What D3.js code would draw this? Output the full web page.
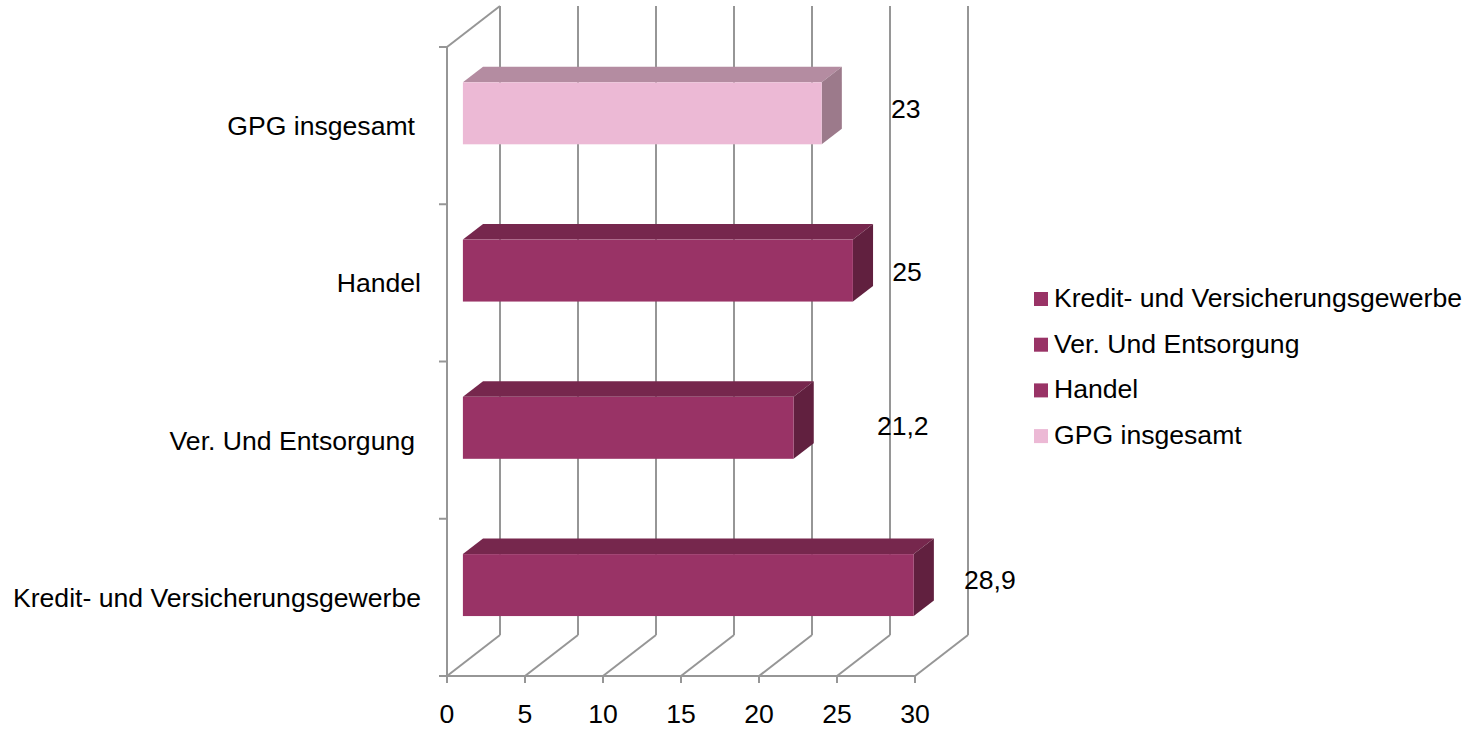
<!DOCTYPE html>
<html>
<head>
<meta charset="utf-8">
<script src="https://cdn.jsdelivr.net/npm/d3@7"></script>
<style>
  html, body { margin: 0; padding: 0; background: #fff; }
  svg { display: block; font-family: "Liberation Sans", Arial, sans-serif; }
</style>
</head>
<body>
<svg id="chart" width="1472" height="730"></svg>
<script>
// Series, in spreadsheet order (first row is drawn at the bottom)
const categories = ["Kredit- und Versicherungsgewerbe", "Ver. Und Entsorgung", "Handel", "GPG insgesamt"];
const values = [28.9, 21.2, 25, 23];
const valueLabels = ["28,9", "21,2", "25", "23"];
const xTicks = [0, 5, 10, 15, 20, 25, 30];

// Where each value label sits, relative to the far end of its bar (px)
const labelOffsets = [[56, 4], [89, 7], [34, 10], [64, 5]];

// Colour sets: [front, top, side]
const darkFaces = ["#993366", "#76274d", "#61203f"];
const pinkFaces = ["#ecb9d5", "#b48ca1", "#9c7a8b"];
const faceSet = i => (categories[i] === "GPG insgesamt" ? pinkFaces : darkFaces);

const svg = d3.select("#chart");
const FONT = 26.6;
const grid = "#969696";

// Front plane of the plot box and the depth vector to the back wall
const x = d3.scaleLinear().domain([0, 30]).range([447, 915]);
const y = d3.scaleBand().domain(categories.slice().reverse()).range([47, 676]).padding(0);
const DX = 53, DY = -41;
const floorY = 676, topY = 47;

// Bars occupy a slab inside the depth
const f0 = 0.30, f1 = 0.68;
const barFrac = 0.394;

const g = svg.append("g");

// Back wall gridlines
g.selectAll("line.back").data(xTicks).join("line")
  .attr("x1", d => x(d) + DX).attr("x2", d => x(d) + DX)
  .attr("y1", topY + DY).attr("y2", floorY + DY)
  .attr("stroke", grid).attr("stroke-width", 2);

// Floor lines running from the front axis to the back wall
g.selectAll("line.floor").data(xTicks).join("line")
  .attr("x1", d => x(d)).attr("y1", floorY)
  .attr("x2", d => x(d) + DX).attr("y2", floorY + DY)
  .attr("stroke", grid).attr("stroke-width", 2);

// Left wall outline
g.append("line").attr("x1", x(0)).attr("x2", x(0)).attr("y1", topY).attr("y2", floorY)
  .attr("stroke", grid).attr("stroke-width", 2);
g.append("line").attr("x1", x(0)).attr("y1", topY).attr("x2", x(0) + DX).attr("y2", topY + DY)
  .attr("stroke", grid).attr("stroke-width", 2);

// Category axis ticks on the left wall
const bounds = y.domain().map(c => y(c)).concat([floorY]);
g.selectAll("line.ytick").data(bounds).join("line")
  .attr("x1", x(0) - 8).attr("x2", x(0)).attr("y1", d => d).attr("y2", d => d)
  .attr("stroke", grid).attr("stroke-width", 2);

// Value axis along the front floor edge
g.append("line").attr("x1", x(0) - 8).attr("x2", x(30)).attr("y1", floorY).attr("y2", floorY)
  .attr("stroke", grid).attr("stroke-width", 2);
g.selectAll("line.xtick").data(xTicks).join("line")
  .attr("x1", d => x(d)).attr("x2", d => x(d)).attr("y1", floorY).attr("y2", floorY + 7)
  .attr("stroke", grid).attr("stroke-width", 2);
g.selectAll("text.xlab").data(xTicks).join("text")
  .attr("x", d => x(d)).attr("y", 723)
  .attr("text-anchor", "middle").attr("font-size", FONT).attr("fill", "#000")
  .text(d => d);

// Category labels
g.selectAll("text.ylab").data(categories).join("text")
  .attr("x", (d, i) => (i % 2 === 0 ? 421 : 415))
  .attr("y", d => y(d) + y.bandwidth() / 2 + FONT * 0.36)
  .attr("text-anchor", "end").attr("font-size", FONT).attr("fill", "#000")
  .text(d => d);

// 3D bars
const bars = categories.map((c, i) => {
  const cy = y(c) + y.bandwidth() / 2 + DY * f0;
  const h = y.bandwidth() * barFrac;
  return {
    i, c, v: values[i],
    x0: x(0) + DX * f0, x1: x(values[i]) + DX * f0,
    yT: cy - h / 2, yB: cy + h / 2, cy,
    dx: DX * (f1 - f0), dy: DY * (f1 - f0)
  };
});
const bg = svg.append("g");
bars.forEach(b => {
  const [front, top, side] = faceSet(b.i);
  bg.append("polygon")
    .attr("points", [[b.x0, b.yT], [b.x0 + b.dx, b.yT + b.dy], [b.x1 + b.dx, b.yT + b.dy], [b.x1, b.yT]].join(" "))
    .attr("fill", top);
  bg.append("polygon")
    .attr("points", [[b.x1, b.yT], [b.x1 + b.dx, b.yT + b.dy], [b.x1 + b.dx, b.yB + b.dy], [b.x1, b.yB]].join(" "))
    .attr("fill", side);
  bg.append("rect")
    .attr("x", b.x0).attr("y", b.yT).attr("width", b.x1 - b.x0).attr("height", b.yB - b.yT)
    .attr("fill", front);
});

// Value labels
bg.selectAll("text.val").data(bars).join("text")
  .attr("x", b => b.x1 + b.dx + labelOffsets[b.i][0])
  .attr("y", b => b.cy + labelOffsets[b.i][1])
  .attr("text-anchor", "middle").attr("font-size", FONT).attr("fill", "#000")
  .text(b => valueLabels[b.i]);

// Legend
const lg = svg.append("g").attr("transform", "translate(1034,292)");
const rows = lg.selectAll("g").data(categories).join("g")
  .attr("transform", (d, i) => `translate(0,${i * 45.7})`);
rows.append("rect").attr("width", 14).attr("height", 14)
  .attr("fill", (d, i) => faceSet(i)[0]);
rows.append("text").attr("x", 20).attr("y", 15)
  .attr("font-size", FONT).attr("fill", "#000")
  .text(d => d);
</script>
</body>
</html>
